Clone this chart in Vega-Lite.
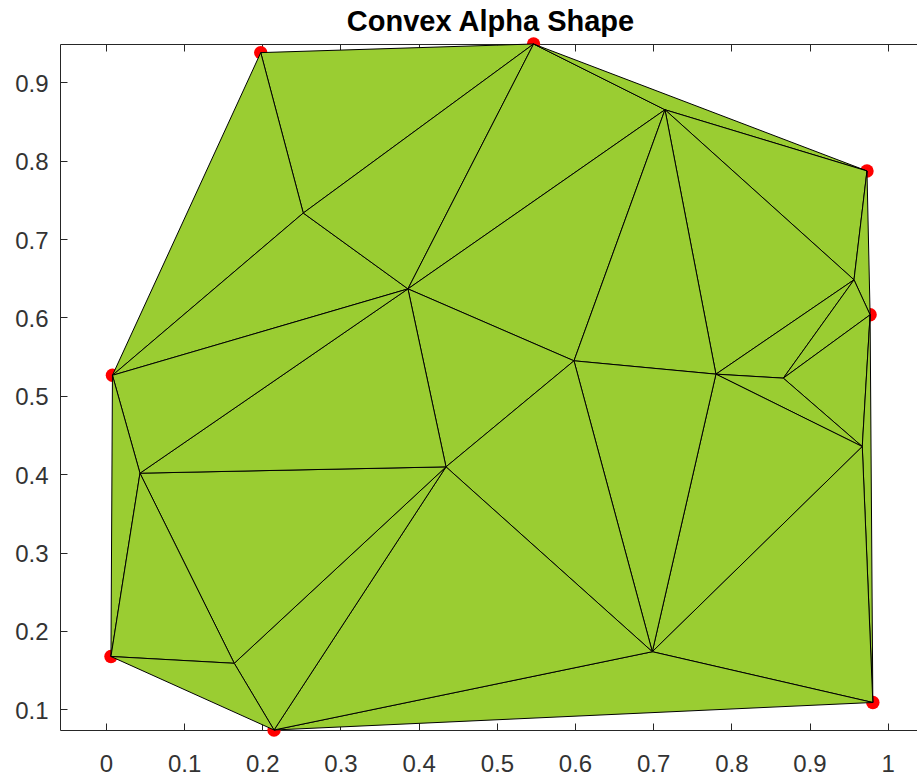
{
  "$schema": "https://vega.github.io/schema/vega-lite/v6.json",
  "autosize": "none",
  "padding": {"left": 60, "top": 44, "right": 0, "bottom": 45},
  "width": 857,
  "height": 686,
  "background": "white",
  "title": {"text": "Convex Alpha Shape", "font": "Liberation Sans", "fontSize": 29, "fontWeight": "bold", "color": "black", "anchor": "middle", "frame": "group", "baseline": "alphabetic", "offset": 12, "dx": 2, "dy": 35},
  "datasets": {
    "verts": [
      {"id": "A", "x": 0.198, "y": 0.938},
      {"id": "B", "x": 0.547, "y": 0.949},
      {"id": "C", "x": 0.9735, "y": 0.787},
      {"id": "D", "x": 0.9775, "y": 0.6034},
      {"id": "E", "x": 0.981, "y": 0.1087},
      {"id": "F", "x": 0.215, "y": 0.0736},
      {"id": "G", "x": 0.0064, "y": 0.1674},
      {"id": "H", "x": 0.0083, "y": 0.5262},
      {"id": "I", "x": 0.2524, "y": 0.7333},
      {"id": "J", "x": 0.3863, "y": 0.6365},
      {"id": "K", "x": 0.7151, "y": 0.8651},
      {"id": "L", "x": 0.9569, "y": 0.6481},
      {"id": "M", "x": 0.5987, "y": 0.5447},
      {"id": "N", "x": 0.7803, "y": 0.5277},
      {"id": "O", "x": 0.8665, "y": 0.5226},
      {"id": "P", "x": 0.9675, "y": 0.4353},
      {"id": "Q", "x": 0.0435, "y": 0.4013},
      {"id": "R", "x": 0.435, "y": 0.4094},
      {"id": "S", "x": 0.1641, "y": 0.1587},
      {"id": "T", "x": 0.6989, "y": 0.1735}
    ],
    "tris": [
      {"t": 1, "a": "A", "b": "B", "c": "I"},
      {"t": 2, "a": "A", "b": "I", "c": "H"},
      {"t": 3, "a": "H", "b": "I", "c": "J"},
      {"t": 4, "a": "I", "b": "B", "c": "J"},
      {"t": 5, "a": "B", "b": "J", "c": "K"},
      {"t": 6, "a": "B", "b": "K", "c": "C"},
      {"t": 7, "a": "K", "b": "C", "c": "L"},
      {"t": 8, "a": "C", "b": "L", "c": "D"},
      {"t": 9, "a": "K", "b": "L", "c": "N"},
      {"t": 10, "a": "L", "b": "N", "c": "O"},
      {"t": 11, "a": "L", "b": "O", "c": "D"},
      {"t": 12, "a": "O", "b": "D", "c": "P"},
      {"t": 13, "a": "D", "b": "P", "c": "E"},
      {"t": 14, "a": "N", "b": "O", "c": "P"},
      {"t": 15, "a": "N", "b": "P", "c": "T"},
      {"t": 16, "a": "P", "b": "T", "c": "E"},
      {"t": 17, "a": "T", "b": "F", "c": "E"},
      {"t": 18, "a": "K", "b": "J", "c": "M"},
      {"t": 19, "a": "K", "b": "M", "c": "N"},
      {"t": 20, "a": "M", "b": "N", "c": "T"},
      {"t": 21, "a": "J", "b": "M", "c": "R"},
      {"t": 22, "a": "M", "b": "R", "c": "T"},
      {"t": 23, "a": "R", "b": "T", "c": "F"},
      {"t": 24, "a": "R", "b": "S", "c": "F"},
      {"t": 25, "a": "Q", "b": "R", "c": "S"},
      {"t": 26, "a": "J", "b": "Q", "c": "R"},
      {"t": 27, "a": "H", "b": "J", "c": "Q"},
      {"t": 28, "a": "H", "b": "Q", "c": "G"},
      {"t": 29, "a": "Q", "b": "G", "c": "S"},
      {"t": 30, "a": "G", "b": "S", "c": "F"}
    ]
  },
  "config": {
    "view": {"stroke": null},
    "axis": {
      "grid": false,
      "title": null,
      "domainColor": "#262626",
      "domainWidth": 1,
      "tickColor": "#262626",
      "tickWidth": 1,
      "labelColor": "#333333",
      "labelFont": "Liberation Sans",
      "labelFontSize": 24
    }
  },
  "layer": [
    {
      "data": {"name": "verts"},
      "mark": {"type": "circle", "color": "#FF0000", "opacity": 1, "size": 180},
      "encoding": {
        "x": {"field": "x", "type": "quantitative", "scale": {"domain": [-0.0588, 1.0375], "nice": false, "zero": false},
              "axis": {"orient": "top", "values": [0, 0.1, 0.2, 0.3, 0.4, 0.5, 0.6, 0.7, 0.8, 0.9, 1], "labels": false, "tickSize": -7}},
        "y": {"field": "y", "type": "quantitative", "scale": {"domain": [0.0736, 0.949], "nice": false, "zero": false},
              "axis": {"orient": "left", "values": [0.1, 0.2, 0.3, 0.4, 0.5, 0.6, 0.7, 0.8, 0.9], "format": "~g", "tickSize": -7, "labelPadding": 19, "labelOffset": 2}}
      }
    },
    {
      "data": {"name": "tris"},
      "transform": [
        {"fold": ["a", "b", "c"], "as": ["k", "v"]},
        {"lookup": "v", "from": {"data": {"name": "verts"}, "key": "id", "fields": ["x", "y"]}}
      ],
      "mark": {"type": "line", "interpolate": "linear-closed", "fill": "#9ACD32", "stroke": "#000000", "strokeWidth": 1, "strokeJoin": "round"},
      "encoding": {
        "x": {"field": "x", "type": "quantitative",
              "axis": {"orient": "bottom", "values": [0, 0.1, 0.2, 0.3, 0.4, 0.5, 0.6, 0.7, 0.8, 0.9, 1], "format": "~g", "tickSize": -7, "labelPadding": 29}},
        "y": {"field": "y", "type": "quantitative"},
        "detail": {"field": "t", "type": "nominal"},
        "order": {"field": "k", "type": "ordinal"}
      }
    }
  ]
}
